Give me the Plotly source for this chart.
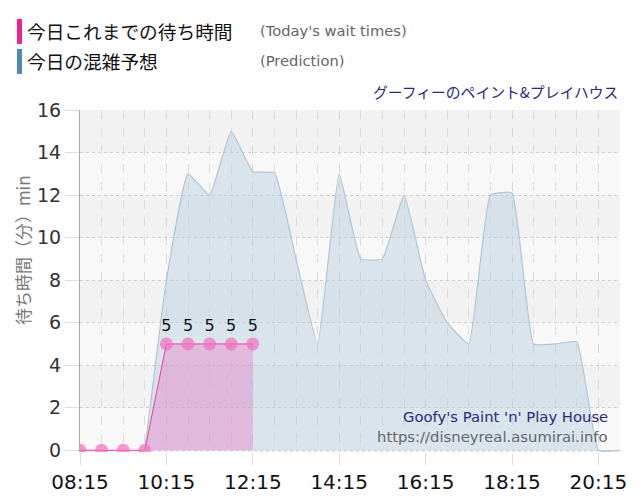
import plotly.graph_objects as go

DAY = "2024-05-01 "

# Today's observed wait times (minutes)
actual_times = ["08:15", "08:45", "09:15", "09:45", "10:15", "10:45", "11:15", "11:45", "12:15"]
actual_values = [0, 0, 0, 0, 5, 5, 5, 5, 5]

# Predicted congestion (minutes)
pred_times = ["09:45", "10:15", "10:45", "11:15", "11:45", "12:15", "12:45", "13:15", "13:45",
              "14:15", "14:45", "15:15", "15:45", "16:15", "16:45", "17:15", "17:45", "18:15",
              "18:45", "19:15", "19:45", "20:15", "20:45"]
pred_values = [0, 8, 13, 12, 15, 13.1, 13.05, 9, 5,
               13, 9, 9, 12, 8, 6, 5, 12, 12.1,
               5, 5, 5.1, 0, 0]

tick_labels = ["08:15", "10:15", "12:15", "14:15", "16:15", "18:15", "20:15"]
y_ticks = [0, 2, 4, 6, 8, 10, 12, 14, 16]

FONT = "DejaVu Sans, Noto Sans CJK JP, sans-serif"
JFONT = "Noto Sans CJK JP, DejaVu Sans, sans-serif"

fig = go.Figure()

fig.add_trace(go.Scatter(
    x=[DAY + t for t in pred_times], y=pred_values,
    mode="lines", line=dict(color="#b3c5d3", width=1.2, shape="spline", smoothing=0.35),
    fill="tozeroy", fillcolor="rgba(180,205,222,0.45)", hoverinfo="skip",
))

fig.add_trace(go.Scatter(
    x=[DAY + t for t in actual_times], y=actual_values,
    mode="lines+markers+text",
    line=dict(color="#f0409a", width=1),
    marker=dict(size=13, color="rgba(240,115,190,0.72)"),
    fill="tozeroy", fillcolor="rgba(235,120,200,0.4)",
    text=[str(v) if v > 0 else "" for v in actual_values],
    textposition="top center", textfont=dict(size=16, color="#111", family=FONT),
))

# alternating horizontal bands
shapes = []
for i, y0 in enumerate(range(0, 16, 2)):
    if i % 2 == 0:
        shapes.append(dict(type="rect", xref="paper", yref="y", x0=0, x1=1, y0=y0, y1=y0 + 2,
                           fillcolor="#f8f8f8", line=dict(width=0), layer="below"))

# helpers: window pixel -> paper coords (plot area spans x 80..620, y 110..451.7 in the window)
def px(xp):
    return (xp - 80) / 540.0

def py(yp):
    return (451.7 - yp) / 341.7

# custom legend bars
shapes.append(dict(type="rect", xref="paper", yref="paper", x0=px(17), x1=px(22), y0=py(44), y1=py(19),
                   fillcolor="#f0208f", line=dict(width=0)))
shapes.append(dict(type="rect", xref="paper", yref="paper", x0=px(17), x1=px(22), y0=py(74), y1=py(49),
                   fillcolor="#4f88bb", line=dict(width=0)))

annotations = [
    dict(text="今日これまでの待ち時間", x=px(25), y=py(31), xref="paper", yref="paper",
         xanchor="left", yanchor="middle", showarrow=False, font=dict(size=18.7, color="#111", family=JFONT)),
    dict(text="今日の混雑予想", x=px(25), y=py(61), xref="paper", yref="paper",
         xanchor="left", yanchor="middle", showarrow=False, font=dict(size=18.7, color="#111", family=JFONT)),
    dict(text="(Today's wait times)", x=px(258), y=py(31), xref="paper", yref="paper",
         xanchor="left", yanchor="middle", showarrow=False, font=dict(size=14.7, color="#666", family=FONT)),
    dict(text="(Prediction)", x=px(258), y=py(61), xref="paper", yref="paper",
         xanchor="left", yanchor="middle", showarrow=False, font=dict(size=14.7, color="#666", family=FONT)),
    dict(text="グーフィーのペイント&プレイハウス", x=1.0, y=py(92), xref="paper", yref="paper",
         xanchor="right", yanchor="middle", showarrow=False, font=dict(size=14.8, color="#2a2a7a", family=JFONT)),
    dict(text="Goofy's Paint 'n' Play House", x=px(610), y=py(416), xref="paper", yref="paper",
         xanchor="right", yanchor="middle", showarrow=False, font=dict(size=14.8, color="#2a2a7a", family=FONT)),
    dict(text="https://disneyreal.asumirai.info", x=px(610), y=py(436), xref="paper", yref="paper",
         xanchor="right", yanchor="middle", showarrow=False, font=dict(size=14.8, color="#666", family=FONT)),
    dict(text="待ち時間（分）min", x=px(22), y=py(250), xref="paper", yref="paper", textangle=-90,
         xanchor="center", yanchor="middle", showarrow=False, font=dict(size=17, color="#777", family=JFONT)),
]

# page body has an 8px margin, so the figure is 8px smaller and shifted
fig.update_layout(
    width=632, height=492,
    margin=dict(l=72, r=20, t=102, b=48.3, pad=0, autoexpand=False),
    paper_bgcolor="white", plot_bgcolor="#f2f2f2",
    showlegend=False,
    font=dict(family=FONT),
    shapes=shapes, annotations=annotations,
    xaxis=dict(
        type="date",
        range=[DAY + "08:15", DAY + "20:45"],
        tickvals=[DAY + t for t in tick_labels], ticktext=tick_labels,
        tickfont=dict(size=20, color="#111", family=FONT),
        showgrid=True, gridcolor="#d6d6d6", griddash="dash", gridwidth=1,
        ticks="outside", ticklen=12, tickcolor="#dddddd",
        minor=dict(dtick=30 * 60 * 1000, tick0=DAY + "08:15", showgrid=True,
                   gridcolor="#dcdcdc", griddash="dash", ticks=""),
        showline=False, zeroline=False, fixedrange=True,
    ),
    yaxis=dict(
        range=[-0.08, 16],
        tickvals=y_ticks,
        tickfont=dict(size=19, color="#333", family=FONT),
        showgrid=True, gridcolor="#cfcfcf", griddash="dot", gridwidth=1,
        ticks="outside", ticklen=14, tickcolor="#dddddd",
        showline=True, linecolor="#aaaaaa", linewidth=1,
        zeroline=False, fixedrange=True,
    ),
)

fig.write_html("out.html", config={"displayModeBar": False})
